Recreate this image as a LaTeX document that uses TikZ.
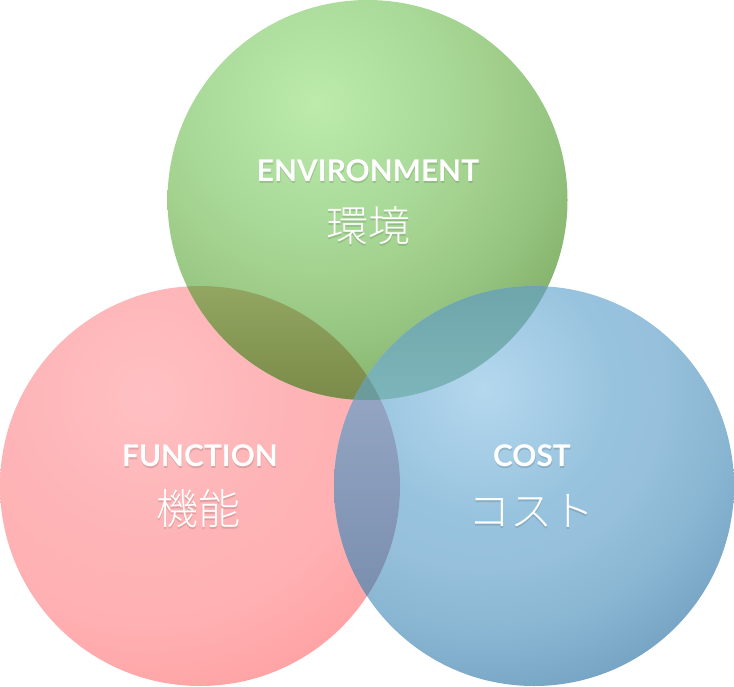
\documentclass[tikz,border=0pt]{standalone}
\usepackage{fontspec}
\newfontfamily\latofont{Lato}
\newfontfamily\cjkfont{Noto Sans CJK JP}[UprightFont={* Light}]
\pgfdeclareradialshading{gshade}{\pgfpoint{0bp}{0bp}}{rgb(0bp)=(0.737,0.922,0.671); rgb(10bp)=(0.663,0.851,0.596); rgb(14bp)=(0.635,0.816,0.549); rgb(19bp)=(0.580,0.765,0.500); rgb(26bp)=(0.490,0.665,0.370); rgb(30bp)=(0.440,0.610,0.300); rgb(50bp)=(0.410,0.570,0.270)}
\pgfdeclareradialshading{pshade}{\pgfpoint{0bp}{0bp}}{rgb(0bp)=(1,0.753,0.765); rgb(10bp)=(0.996,0.710,0.718); rgb(18bp)=(1,0.690,0.698); rgb(24bp)=(1,0.640,0.645); rgb(30bp)=(1,0.600,0.600); rgb(50bp)=(1,0.570,0.570)}
\pgfdeclareradialshading{bshade}{\pgfpoint{0bp}{0bp}}{rgb(0bp)=(0.706,0.847,0.933); rgb(10bp)=(0.596,0.765,0.871); rgb(14bp)=(0.588,0.753,0.859); rgb(19bp)=(0.540,0.715,0.825); rgb(26bp)=(0.440,0.620,0.750); rgb(30bp)=(0.390,0.570,0.710); rgb(50bp)=(0.360,0.540,0.690)}
\definecolor{gptop}{RGB}{147,166,98}
\definecolor{gpbot}{RGB}{122,138,72}
\definecolor{gbtop}{RGB}{110,165,170}
\definecolor{gbbot}{RGB}{125,182,186}
\definecolor{pbtop}{RGB}{150,168,197}
\definecolor{pbbot}{RGB}{122,142,174}
\definecolor{gpbcol}{RGB}{107,155,155}
\tikzset{
  lab/.style={text=white,font=\latofont\bfseries\fontsize{22.4}{26}\selectfont,inner sep=0pt},
  jp/.style={text=white,font=\cjkfont\fontsize{31.5}{36}\selectfont,inner sep=0pt},
  shadowtext/.style={text=black,text opacity=0.12}
}
\begin{document}
\begin{tikzpicture}[x=0.75pt,y=-0.75pt]
\useasboundingbox (0,0) rectangle (734,686);
\coordinate (gc) at (367.5,200);
\coordinate (pc) at (200,486);
\coordinate (bc) at (534,486);
\coordinate (gspot) at (317,104);
\coordinate (pspot) at (147,396);
\coordinate (bspot) at (484,389);
\begin{scope}
  \clip (pc) circle[radius=150pt];
  \shade[shading=pshade] (pspot) circle[radius=240pt];
\end{scope}
\begin{scope}
  \clip (gc) circle[radius=150pt];
  \shade[shading=gshade] (gspot) circle[radius=240pt];
\end{scope}
\begin{scope}
  \clip (bc) circle[radius=150pt];
  \shade[shading=bshade] (bspot) circle[radius=240pt];
\end{scope}
% green & pink
\begin{scope}
  \clip (gc) circle[radius=150pt];
  \clip (pc) circle[radius=150pt];
  \shade[top color=gptop,bottom color=gpbot] (160,284) rectangle (410,402);
\end{scope}
% green & blue
\begin{scope}
  \clip (gc) circle[radius=150pt];
  \clip (bc) circle[radius=150pt];
  \shade[top color=gbtop,bottom color=gbbot] (325,284) rectangle (575,402);
\end{scope}
% pink & blue
\begin{scope}
  \clip (pc) circle[radius=150pt];
  \clip (bc) circle[radius=150pt];
  \shade[top color=pbtop,bottom color=pbbot] (330,370) rectangle (404,600);
\end{scope}
% all three
\begin{scope}
  \clip (gc) circle[radius=150pt];
  \clip (pc) circle[radius=150pt];
  \fill[gpbcol] (bc) circle[radius=150pt];
\end{scope}
% shadows
\node[lab,shadowtext] (envLs) at (368.5,172.5) {ENVIRONMENT};
\node[jp,shadowtext] (envJs) at (368.5,227.5) {環境};
\node[lab,shadowtext] (funLs) at (200.5,457.5) {FUNCTION};
\node[jp,shadowtext] (funJs) at (198.5,510.5) {機能};
\node[lab,shadowtext] (costLs) at (532.5,457.5) {COST};
\node[jp,shadowtext] (costJs) at (531.5,512.5) {コスト};
% labels
\node[lab] (envL) at (368,171) {ENVIRONMENT};
\node[jp] (envJ) at (368,226) {環境};
\node[lab] (funL) at (200,456) {FUNCTION};
\node[jp] (funJ) at (198,509) {機能};
\node[lab] (costL) at (532,456) {COST};
\node[jp] (costJ) at (531,511) {コスト};
\end{tikzpicture}
\end{document}
